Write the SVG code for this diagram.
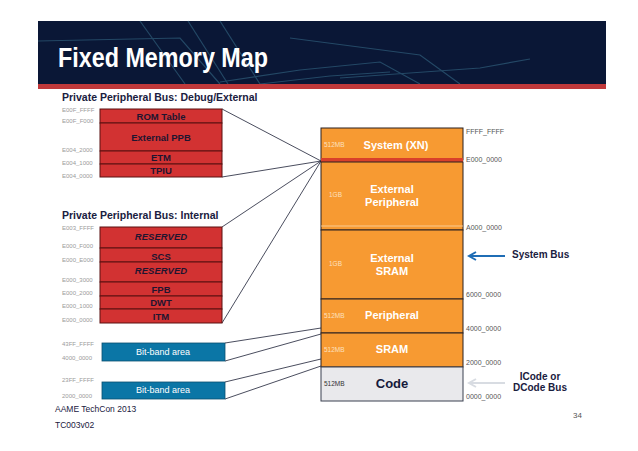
<svg xmlns="http://www.w3.org/2000/svg" width="638" height="451" viewBox="0 0 638 451">
<defs>
<style>
text{font-family:"Liberation Sans",Arial,sans-serif}
.addr{font-size:6px;fill:#9a9a9a}
.raddr{font-size:7px;fill:#555}
.head{font-size:10.5px;font-weight:bold;fill:#1a2040}
.red{fill:#d23232;stroke:#5a1010;stroke-width:1}
.rl{font-size:9.5px;font-weight:bold;fill:#1f1530;text-anchor:middle}
.rli{font-size:9.5px;font-weight:bold;font-style:italic;fill:#1f1530;text-anchor:middle}
.blue{fill:#0b76a6;stroke:#0a5070;stroke-width:0.8}
.bl{font-size:9px;fill:#fff;text-anchor:middle}
.org{fill:#f79a32;stroke:#2a2020;stroke-width:1}
.ol{font-size:11px;font-weight:bold;fill:#fff;text-anchor:middle}
.sz{font-size:6.5px;fill:#fde0bf}
.conn{stroke:#1c2035;stroke-width:0.8;fill:none}
</style>
<marker id="ab" markerWidth="10" markerHeight="10" refX="8" refY="5" orient="auto" markerUnits="userSpaceOnUse">
<path d="M1,1 L8,5 L1,9" fill="none" stroke="#1f6db5" stroke-width="2"/>
</marker>
<marker id="ag" markerWidth="10" markerHeight="10" refX="8" refY="5" orient="auto" markerUnits="userSpaceOnUse">
<path d="M1,1 L8,5 L1,9" fill="none" stroke="#d8dce2" stroke-width="2"/>
</marker>
</defs>
<rect width="638" height="451" fill="#fff"/>
<g id="header">
<rect x="38" y="21" width="568" height="64" fill="#0a1736"/>
<g stroke="#2f5d7a" stroke-width="1.2" fill="none" opacity="0.7">
<path d="M38,41 L180,38 L220,84"/>
<path d="M140,21 L185,84"/>
<path d="M188,21 L228,84"/>
<path d="M220,21 L260,84"/>
<path d="M220,82 L300,70 L380,62 L420,84"/>
<path d="M260,84 L330,76 L390,72"/>
<path d="M290,38 L420,55 L460,84"/>
<path d="M340,78 L480,68 L530,59"/>
</g>
<rect x="38" y="84" width="568" height="5" fill="#c0393b"/>
<text x="58" y="67" font-size="28" font-weight="bold" fill="#fff" textLength="210" lengthAdjust="spacingAndGlyphs">Fixed Memory Map</text>
</g>
<g id="connectors">
<line class="conn" x1="222" y1="109" x2="321" y2="161"/>
<line class="conn" x1="222" y1="177" x2="321" y2="161"/>
<line class="conn" x1="222" y1="227" x2="321" y2="161"/>
<line class="conn" x1="222" y1="323" x2="321" y2="161"/>
<line class="conn" x1="225" y1="343" x2="321" y2="328"/>
<line class="conn" x1="225" y1="361" x2="321" y2="334"/>
<line class="conn" x1="225" y1="382" x2="321" y2="359"/>
<line class="conn" x1="225" y1="399" x2="321" y2="366"/>
<line x1="505" y1="256" x2="469" y2="256" stroke="#1f6db5" stroke-width="2" marker-end="url(#ab)"/>
<line x1="505" y1="383" x2="469" y2="383" stroke="#d8dce2" stroke-width="2" marker-end="url(#ag)"/>
</g>
<g id="ppb-debug">
<text class="head" x="62" y="101">Private Peripheral Bus: Debug/External</text>
<rect class="red" x="100" y="109" width="122" height="14"/>
<rect class="red" x="100" y="123" width="122" height="28"/>
<rect class="red" x="100" y="151" width="122" height="13"/>
<rect class="red" x="100" y="164" width="122" height="13"/>
<text class="rl" x="161" y="120">ROM Table</text>
<text class="rl" x="161" y="141">External PPB</text>
<text class="rl" x="161" y="161">ETM</text>
<text class="rl" x="161" y="174">TPIU</text>
<text class="addr" x="62" y="112">E00F_FFFF</text>
<text class="addr" x="62" y="123">E00F_F000</text>
<text class="addr" x="62" y="152">E004_2000</text>
<text class="addr" x="62" y="165">E004_1000</text>
<text class="addr" x="62" y="178">E004_0000</text>
</g>
<g id="ppb-internal">
<text class="head" x="62" y="219">Private Peripheral Bus: Internal</text>
<rect class="red" x="100" y="227" width="122" height="21"/>
<rect class="red" x="100" y="248" width="122" height="14"/>
<rect class="red" x="100" y="262" width="122" height="20"/>
<rect class="red" x="100" y="282" width="122" height="14"/>
<rect class="red" x="100" y="296" width="122" height="13"/>
<rect class="red" x="100" y="309" width="122" height="14"/>
<text class="rli" x="161" y="240">RESERVED</text>
<text class="rl" x="161" y="260">SCS</text>
<text class="rli" x="161" y="274">RESERVED</text>
<text class="rl" x="161" y="293">FPB</text>
<text class="rl" x="161" y="306">DWT</text>
<text class="rl" x="161" y="320">ITM</text>
<text class="addr" x="62" y="230">E003_FFFF</text>
<text class="addr" x="62" y="248">E000_F000</text>
<text class="addr" x="62" y="262">E000_E000</text>
<text class="addr" x="62" y="282">E000_3000</text>
<text class="addr" x="62" y="295">E000_2000</text>
<text class="addr" x="62" y="308">E000_1000</text>
<text class="addr" x="62" y="322">E000_0000</text>
</g>
<g id="bitband1">
<rect class="blue" x="102" y="343" width="123" height="18"/>
<text class="bl" x="163" y="355">Bit-band area</text>
<text class="addr" x="62" y="346">43FF_FFFF</text>
<text class="addr" x="62" y="360">4000_0000</text>
</g>
<g id="bitband2">
<rect class="blue" x="102" y="382" width="123" height="17"/>
<text class="bl" x="163" y="393">Bit-band area</text>
<text class="addr" x="62" y="382">23FF_FFFF</text>
<text class="addr" x="62" y="398">2000_0000</text>
</g>
<g id="memmap">
<rect class="org" x="321" y="128" width="142" height="32"/>
<rect x="321" y="158" width="142" height="4" fill="#d9402a"/>
<rect class="org" x="321" y="162" width="142" height="68"/>
<line x1="321" y1="226" x2="463" y2="226" stroke="#fbd7a8" stroke-width="0.8"/>
<rect class="org" x="321" y="230" width="142" height="69"/>
<rect class="org" x="321" y="299" width="142" height="34"/>
<rect class="org" x="321" y="333" width="142" height="34"/>
<rect x="321" y="367" width="142" height="34" fill="#e9e9ec" stroke="#3a4050" stroke-width="1"/>
<text class="ol" x="396" y="149">System (XN)</text>
<text class="ol" x="392" y="193">External</text>
<text class="ol" x="392" y="206">Peripheral</text>
<text class="ol" x="392" y="262">External</text>
<text class="ol" x="392" y="275">SRAM</text>
<text class="ol" x="392" y="319">Peripheral</text>
<text class="ol" x="392" y="353">SRAM</text>
<text x="392" y="388" font-size="13" font-weight="bold" fill="#15193a" text-anchor="middle">Code</text>
<text class="sz" x="324" y="147">512MB</text>
<text class="sz" x="329" y="197">1GB</text>
<text class="sz" x="329" y="266">1GB</text>
<text class="sz" x="324" y="318">512MB</text>
<text class="sz" x="324" y="352">512MB</text>
<text x="324" y="386" font-size="6.5" fill="#333">512MB</text>
<text class="raddr" x="466" y="134">FFFF_FFFF</text>
<text class="raddr" x="466" y="162">E000_0000</text>
<text class="raddr" x="466" y="230">A000_0000</text>
<text class="raddr" x="466" y="297">6000_0000</text>
<text class="raddr" x="466" y="331">4000_0000</text>
<text class="raddr" x="466" y="365">2000_0000</text>
<text class="raddr" x="466" y="399">0000_0000</text>
</g>
<g id="labels">
<text x="512" y="258" font-size="10" font-weight="bold" fill="#1a2040">System Bus</text>
<text x="540" y="380" font-size="10" font-weight="bold" fill="#1a2040" text-anchor="middle">ICode or</text>
<text x="540" y="391" font-size="10" font-weight="bold" fill="#1a2040" text-anchor="middle">DCode  Bus</text>
<text x="55" y="412" font-size="8.5" fill="#1a2040">AAME TechCon 2013</text>
<text x="55" y="428" font-size="8.5" fill="#1a2040">TC003v02</text>
<text x="573" y="418" font-size="8" fill="#555">34</text>
</g>
</svg>
